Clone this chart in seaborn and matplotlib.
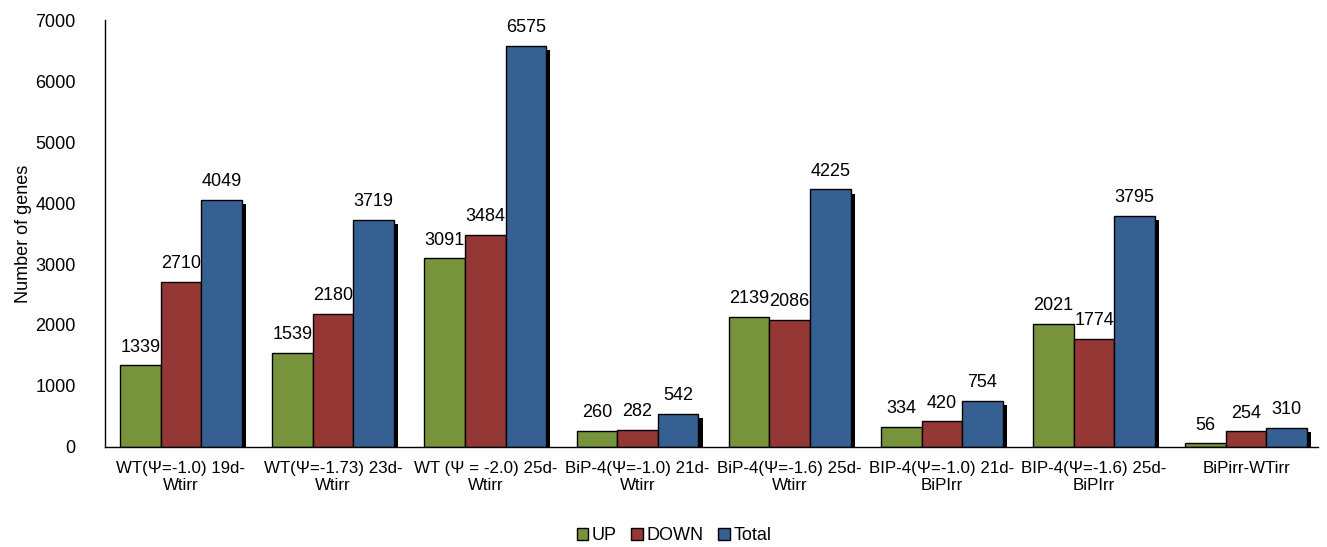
import matplotlib
matplotlib.use("Agg")
import matplotlib.pyplot as plt
import matplotlib.patheffects as pe
import seaborn as sns
import pandas as pd

# Comparisons (x axis), two-line labels
comparisons = [
    "WT(\u03a8=-1.0) 19d-\nWtirr",
    "WT(\u03a8=-1.73) 23d-\nWtirr",
    "WT (\u03a8 = -2.0) 25d-\nWtirr",
    "BiP-4(\u03a8=-1.0) 21d-\nWtirr",
    "BiP-4(\u03a8=-1.6) 25d-\nWtirr",
    "BIP-4(\u03a8=-1.0) 21d-\nBiPIrr",
    "BIP-4(\u03a8=-1.6) 25d-\nBiPIrr",
    "BiPirr-WTirr",
]
up_genes = [1339, 1539, 3091, 260, 2139, 334, 2021, 56]
down_genes = [2710, 2180, 3484, 282, 2086, 420, 1774, 254]
total_genes = [4049, 3719, 6575, 542, 4225, 754, 3795, 310]
series_names = ["UP", "DOWN", "Total"]
series_colors = ["#77933C", "#953735", "#376092"]

df = pd.DataFrame({
    "comparison": comparisons * 3,
    "count": up_genes + down_genes + total_genes,
    "direction": [s for s in series_names for _ in comparisons],
})

sns.set_theme(style="white")
plt.rcParams["font.family"] = ["Liberation Sans", "DejaVu Sans"]
plt.rcParams["text.color"] = "black"
plt.rcParams["axes.labelcolor"] = "black"
plt.rcParams["xtick.color"] = "black"
plt.rcParams["ytick.color"] = "black"

fig = plt.figure(figsize=(13.27, 5.47), dpi=100)
ax = fig.add_axes([0.079, 0.183, 0.914, 0.78])

sns.barplot(
    data=df, x="comparison", y="count", hue="direction",
    hue_order=series_names, palette=series_colors,
    width=0.8, edgecolor="black", linewidth=1.0,
    saturation=1, legend=False, ax=ax,
)

# Drop shadow on the Total bars
for bar in ax.containers[2]:
    bar.set_path_effects([
        pe.SimplePatchShadow(offset=(3, -3), shadow_rgbFace="black", alpha=1.0),
        pe.Normal(),
    ])

for cont in ax.containers:
    ax.bar_label(cont, fmt="%d", padding=7, fontsize=13, color="black")

ax.set_ylim(0, 7000)
ax.set_yticks(range(0, 7001, 1000))
ax.set_xlim(-0.5, 7.47)
ax.set_xlabel("")
ax.set_ylabel("Number of genes", fontsize=13, labelpad=2)
ax.tick_params(axis="y", length=0, pad=21, labelsize=13)
ax.tick_params(axis="x", length=0, pad=10, labelsize=12.2)
for lbl in ax.get_xticklabels():
    lbl.set_linespacing(1.15)

for side in ["top", "right"]:
    ax.spines[side].set_visible(False)
for side in ["left", "bottom"]:
    ax.spines[side].set_color("black")
    ax.spines[side].set_linewidth(1.0)

handles = [plt.Rectangle((0, 0), 1, 1, facecolor=c, edgecolor="black", linewidth=1.0)
           for c in series_colors]
fig.legend(handles, series_names, loc="lower center", bbox_to_anchor=(0.508, -0.025),
           ncol=3, frameon=False, fontsize=13, handlelength=0.65, handleheight=0.65,
           handletextpad=0.2, columnspacing=0.8)

fig.savefig("out.png", dpi=100)
